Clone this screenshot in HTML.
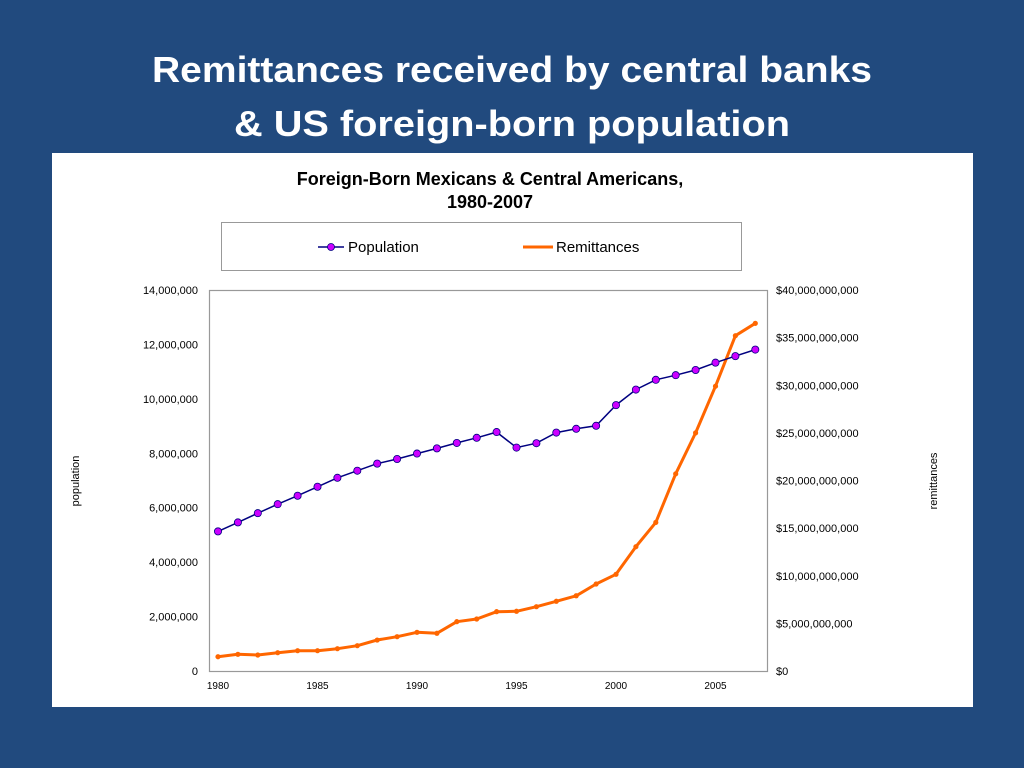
<!DOCTYPE html>
<html><head><meta charset="utf-8"><style>
html,body{margin:0;padding:0;background:#214a7e;}
svg{display:block;font-family:"Liberation Sans",Arial,sans-serif;}
</style></head><body>
<svg width="1024" height="768" viewBox="0 0 1024 768">
<rect x="0" y="0" width="1024" height="768" fill="#214a7e"/>
<text x="512" y="82" text-anchor="middle" fill="#fff" font-weight="bold" font-size="36" textLength="720" lengthAdjust="spacingAndGlyphs">Remittances received by central banks</text>
<text x="512" y="136" text-anchor="middle" fill="#fff" font-weight="bold" font-size="36" textLength="556" lengthAdjust="spacingAndGlyphs">&amp; US foreign-born population</text>
<rect x="52" y="153" width="921" height="554" fill="#fff"/>
<text x="490" y="185" text-anchor="middle" font-weight="bold" font-size="18" fill="#000">Foreign-Born Mexicans &amp; Central Americans,</text>
<text x="490" y="208" text-anchor="middle" font-weight="bold" font-size="18" fill="#000">1980-2007</text>
<g>
<rect x="221.5" y="222.5" width="520" height="48" fill="#fff" stroke="#999"/>
<g>
<line x1="318" y1="247" x2="344" y2="247" stroke="#000080" stroke-width="1.5"/>
<circle cx="331" cy="247" r="3.5" fill="#cc00ff" stroke="#000080" stroke-width="0.8"/>
<text x="348" y="252" font-size="15" fill="#000">Population</text>
</g>
<g>
<line x1="523" y1="247" x2="553" y2="247" stroke="#ff6600" stroke-width="3"/>
<text x="556" y="252" font-size="15" fill="#000">Remittances</text>
</g>
</g>
<text transform="translate(79,481) rotate(-90)" text-anchor="middle" font-size="11" fill="#000">population</text>
<text transform="translate(937,481) rotate(-90)" text-anchor="middle" font-size="11" fill="#000">remittances</text>
<g id="axes"></g>
<g id="marks"></g>
</svg>
<script>
const years = [1980,1981,1982,1983,1984,1985,1986,1987,1988,1989,1990,1991,1992,1993,1994,1995,1996,1997,1998,1999,2000,2001,2002,2003,2004,2005,2006,2007];
const population = [5130000,5460000,5800000,6130000,6440000,6770000,7100000,7360000,7620000,7790000,7990000,8180000,8380000,8570000,8780000,8210000,8370000,8760000,8900000,9010000,9770000,10340000,10700000,10870000,11060000,11330000,11570000,11810000];
const remittances = [1.5e9,1.75e9,1.68e9,1.92e9,2.13e9,2.13e9,2.34e9,2.66e9,3.25e9,3.6e9,4.06e9,3.96e9,5.18e9,5.46e9,6.23e9,6.27e9,6.75e9,7.32e9,7.9e9,9.13e9,10.15e9,13.05e9,15.6e9,20.7e9,25.0e9,29.9e9,35.2e9,36.5e9];
const leftTicks = [0,2000000,4000000,6000000,8000000,10000000,12000000,14000000];
const rightTicks = [0,5e9,10e9,15e9,20e9,25e9,30e9,35e9,40e9];
const xTickYears = [1980,1985,1990,1995,2000,2005];

const NS="http://www.w3.org/2000/svg";
const L=209,R=767,T=290,B=671;
const x0=218, xStep=19.9;
const xs=y=>x0+(y-1980)*xStep;
const yl=v=>B-(v/14000000)*(B-T);
const yr=v=>B-(v/40e9)*(B-T);
const axes=document.getElementById('axes'), marks=document.getElementById('marks');
function mk(tag,attrs,parent){const e=document.createElementNS(NS,tag);for(const k in attrs)e.setAttribute(k,attrs[k]);parent.appendChild(e);return e;}

const frame=mk('rect',{x:L+0.5,y:T+0.5,width:R-L,height:B-T,fill:'none',stroke:'#999','stroke-width':1.2},axes);


const fmt=n=>n.toLocaleString('en-US');
leftTicks.forEach(v=>{
  const t=mk('text',{x:198,y:yl(v)+4,'text-anchor':'end','font-size':11,fill:'#000'},axes);
  t.textContent=fmt(v);
  
  
});
rightTicks.forEach(v=>{
  const t=mk('text',{x:776,y:yr(v)+4,'font-size':11,fill:'#000'},axes);
  t.textContent='$'+fmt(v);
  
  
});
xTickYears.forEach(y=>{
  const t=mk('text',{x:xs(y),y:689,'text-anchor':'middle','font-size':10,fill:'#000'},axes);
  t.textContent=y;
  
  
});

const rp=remittances.map((v,i)=>xs(years[i]).toFixed(1)+','+yr(v).toFixed(1)).join(' ');
const rl=mk('polyline',{points:rp,fill:'none',stroke:'#ff6600','stroke-width':3,'stroke-linejoin':'round'},marks);


remittances.forEach((v,i)=>{
  const d=mk('circle',{cx:xs(years[i]),cy:yr(v),r:2.6,fill:'#ff6600'},marks);
  
  
});
const pp=population.map((v,i)=>xs(years[i]).toFixed(1)+','+yl(v).toFixed(1)).join(' ');
const pl=mk('polyline',{points:pp,fill:'none',stroke:'#000080','stroke-width':1.5},marks);


population.forEach((v,i)=>{
  const d=mk('circle',{cx:xs(years[i]),cy:yl(v),r:3.6,fill:'#cc00ff',stroke:'#000080','stroke-width':0.8},marks);
  
  
});
</script>
</body></html>
